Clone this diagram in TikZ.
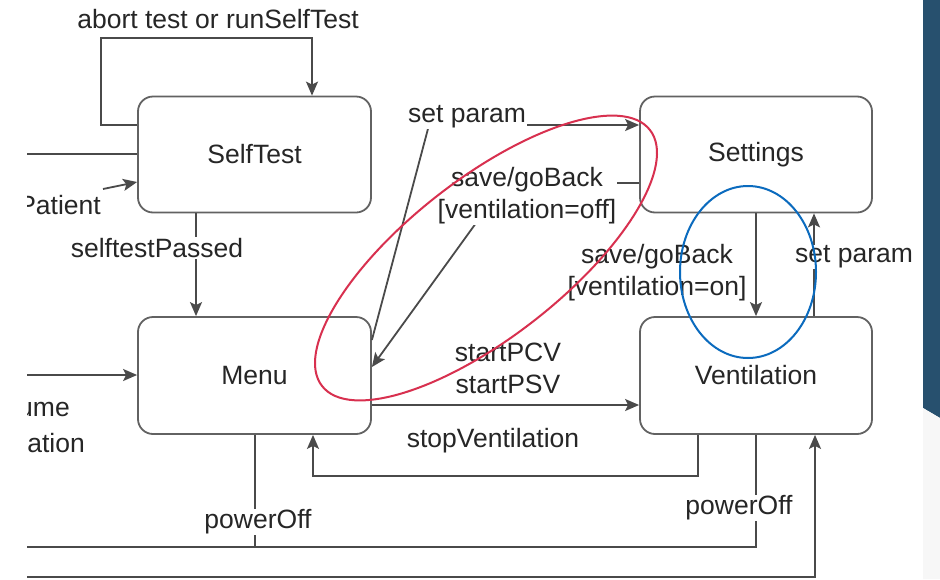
\documentclass[tikz,border=0pt]{standalone}
\usepackage{fontspec}
\setmainfont{Liberation Sans}
\usetikzlibrary{arrows.meta,calc}
\definecolor{ln}{HTML}{4A4A4A}
\definecolor{boxc}{HTML}{626262}
\definecolor{txt}{HTML}{262626}
\definecolor{redc}{HTML}{D8304F}
\definecolor{bluec}{HTML}{0B6BBE}
\definecolor{panel}{HTML}{27506E}
\definecolor{panellight}{HTML}{F7F7F7}
\begin{document}
\begin{tikzpicture}[x=1pt,y=-1pt,
  state/.style={draw=boxc, line width=1.8pt, rounded corners=15pt, minimum width=233pt, minimum height=116pt, font=\fontsize{26.5}{32}\selectfont, text=txt},
  edge/.style={draw=ln, line width=1.8pt},
  arr/.style={edge, -{Stealth[length=14pt,width=12pt,inset=3pt]}},
  lbl/.style={font=\fontsize{26.5}{32}\selectfont, text=txt, inner sep=1pt, align=center},
  lblw/.style={lbl, fill=white}]
\useasboundingbox (0,0) rectangle (940,579);
\fill[white] (0,0) rectangle (940,579);
% right panel
\fill[panel] (923,0) -- (940,0) -- (940,418) -- (923,408) -- cycle;
\fill[panellight] (923,408) -- (940,418) -- (940,579) -- (923,579) -- cycle;

% states
\node[state] (selftest) at (254.5,154.5) {SelfTest};
\node[state, minimum width=232pt] (settings) at (756,154.5) {Settings};
\node[state, minimum height=117pt] (menu) at (254.5,375.5) {Menu};
\node[state, minimum width=232pt, minimum height=117pt] (vent) at (756,375.5) {Ventilation};

% free ends
\coordinate (lA) at (27,154);
\coordinate (lB) at (103,189);
\coordinate (lC) at (27,375);
\coordinate (lD) at (27,547);
\coordinate (lE) at (27,577);

% connectors
\draw[arr] (selftest.west |- 0,125) -- (101,125) -- (101,38) -- (312,38) -- (selftest.north -| 312,0);
\draw[edge] (lA) -- (selftest.west |- 0,154);
\draw[arr] (lB) -- (selftest.west |- 0,182);
\draw[arr] (lC) -- (menu.west |- 0,375);
\draw[arr] (selftest.south -| 196,0) -- (menu.north -| 196,0);
\draw[arr] (menu.east |- 0,340) -- (429,125) -- (settings.west |- 0,125);
\draw[arr] (settings.west |- 0,183) -- (505,183) -- (menu.east |- 0,367);
\draw[arr] (menu.east |- 0,405) -- (vent.west |- 0,405);
\draw[arr] (vent.south -| 698,0) -- (698,476) -- (313,476) -- (menu.south -| 313,0);
\draw[edge] (menu.south -| 255,0) -- (255,547);
\draw[edge] (vent.south) -- (756,547) -- (lD);
\draw[arr] (lE) -- (815,577) -- (vent.south -| 815,0);
\draw[arr] (settings.south) -- (vent.north);
\draw[arr] (vent.north -| 814,0) -- (settings.south -| 814,0);

% labels
\node[lbl] (lt) at (218,19) {abort test or runSelfTest};
\begin{scope}
\clip (27,0) rectangle (940,579);
\node[lbl, anchor=east] (lpat) at (102,205) {Patient};
\node[lbl, anchor=east] (lume) at (71,409) {ume};
\node[lbl, anchor=east] (lation) at (86,443) {ation};
\end{scope}
\node[lblw] (lsp) at (157,248) {selftestPassed};
\node[lblw] (lset1) at (467,117) {set param};
\node[lblw] (lsave1) at (527,196) {save/goBack\\{[ventilation=off]}};
\node[lbl] (lstart) at (508,368) {startPCV\\startPSV};
\node[lbl] (lstop) at (493,441) {stopVentilation};
\node[lblw] (lpo1) at (258,522) {powerOff};
\node[lblw] (lpo2) at (739,508) {powerOff};
\node[lbl] (lsave2) at (657,273) {save/goBack\\{[ventilation=on]}};
\node[lblw] (lset2) at (854,257) {set param};

% highlight ellipses
\draw[redc, line width=2pt, rotate around={38:(486,258)}] (486,258) ellipse [x radius=208pt, y radius=79pt];
\draw[bluec, line width=2pt] (748,272) ellipse [x radius=68pt, y radius=86pt];
\end{tikzpicture}
\end{document}
